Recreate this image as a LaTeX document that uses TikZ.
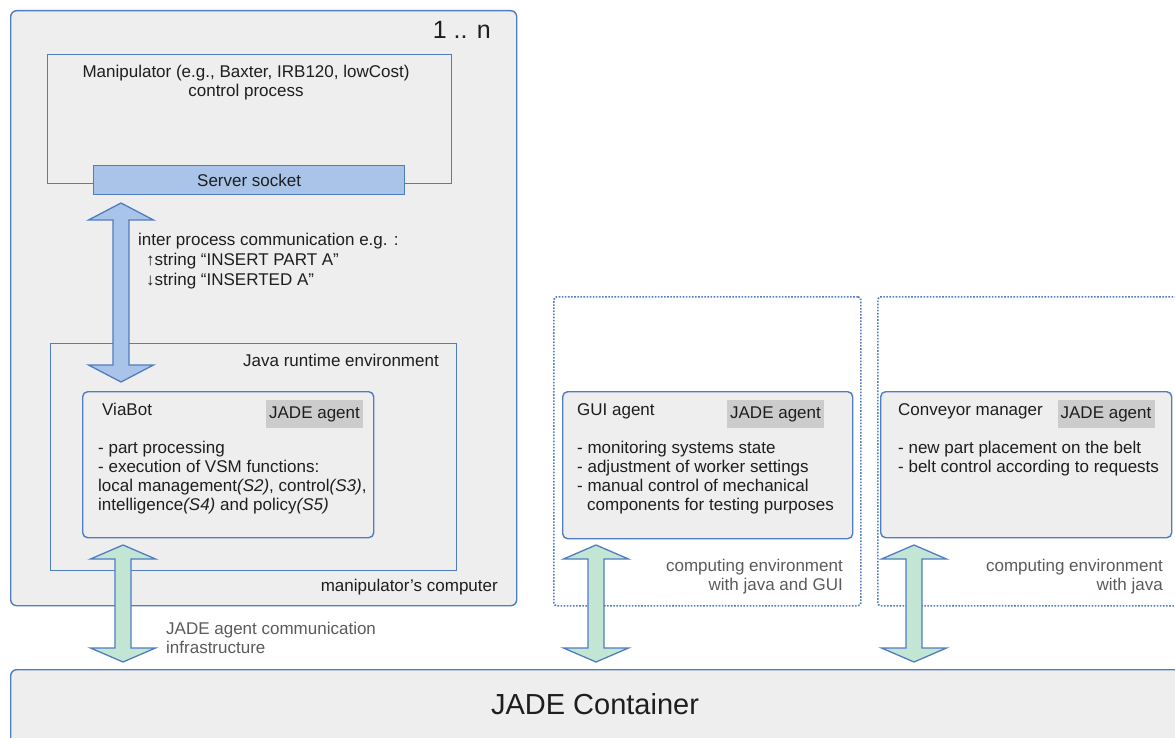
\documentclass[tikz,border=0pt]{standalone}
\usepackage{fontspec}
\setmainfont{Liberation Sans}
\usetikzlibrary{calc}

\definecolor{edge}{HTML}{4F7DBF}
\definecolor{panel}{HTML}{EEEEEE}
\definecolor{sockfill}{HTML}{A9C4E8}
\definecolor{busfill}{HTML}{C3E6D4}
\definecolor{tagfill}{HTML}{CCCCCC}
\definecolor{ink}{HTML}{1E1E1E}
\definecolor{notegray}{HTML}{5A5A5A}

% two-headed block arrow: #1 upper tip, #2 lower tip, #3 head length, #4 style
\newcommand\commarrow[4]{%
  \draw[#4] (#1) -- ($(#1)+(32.5,#3)$) -- ($(#1)+(8,#3)$)
    -- ($(#2)+(8,-#3)$) -- ($(#2)+(32.5,-#3)$) -- (#2)
    -- ($(#2)+(-32.5,-#3)$) -- ($(#2)+(-8,-#3)$)
    -- ($(#1)+(-8,#3)$) -- ($(#1)+(-32.5,#3)$) -- cycle;}

\begin{document}
\begin{tikzpicture}[x=1pt,y=-1pt,
  font=\fontsize{17}{20}\selectfont, text=ink,
  box/.style={draw=edge, line width=1.4pt, fill=panel, rounded corners=6pt,
    inner sep=0pt, anchor=north west},
  plainbox/.style={draw=edge, line width=1.3pt, inner sep=0pt, anchor=north west},
  envbox/.style={draw=edge, line width=1.7pt, dash pattern=on 1.6pt off 1.5pt,
    rounded corners=3pt, inner sep=0pt, anchor=north west},
  tag/.style={fill=tagfill, minimum width=97pt, minimum height=28pt, inner sep=0pt},
  txt/.style={inner sep=0pt, anchor=base west},
  rtxt/.style={inner sep=0pt, anchor=base east},
  notetxt/.style={text=notegray},
  ipc/.style={draw=edge, line width=1.3pt, fill=sockfill},
  bus/.style={draw=edge, line width=1.3pt, fill=busfill}]

\useasboundingbox (0,0) rectangle (1175,738);
\clip (0,0) rectangle (1175,738);

% computers and the shared container
\node[box, minimum width=506pt, minimum height=595pt] (pc) at (10,10) {};
\node[box, minimum width=1185pt, minimum height=80pt] (cont) at (10,669) {};
\node[envbox, minimum width=307pt, minimum height=309pt] (guienv) at (553,296) {};
\node[envbox, minimum width=320pt, minimum height=309pt] (convenv) at (877,296) {};

% manipulator process and its socket
\node[plainbox, minimum width=404pt, minimum height=129pt] (manip) at (47,54) {};
\node[plainbox, fill=sockfill, minimum width=311pt, minimum height=29pt] (sock) at (93,165) {Server socket};

% java runtime and the agents
\node[plainbox, minimum width=406pt, minimum height=227pt] (jre) at (50,343) {};
\node[box, rounded corners=5pt, minimum width=291pt, minimum height=146pt] (viabot) at (82,391) {};
\node[box, rounded corners=5pt, minimum width=290pt, minimum height=147pt] (gui) at (562,391) {};
\node[box, rounded corners=5pt, minimum width=291pt, minimum height=146pt] (conv) at (880,391) {};

\node[tag] (viatag) at (314.5,414) {JADE agent};
\node[tag] (guitag) at (775.5,414) {JADE agent};
\node[tag] (convtag) at (1106,414) {JADE agent};

% labels
\node[rtxt, font=\fontsize{25}{30}\selectfont] (nlabel) at (491,39) {1 .. n};
\node[inner sep=0pt, anchor=base] (manip1) at (246,78) {Manipulator (e.g., Baxter, IRB120, lowCost)};
\node[inner sep=0pt, anchor=base] (manip2) at (246,97) {control process};

\node[txt] (ipc1) at (138,245) {inter process communication e.g. :};
\node[txt] (ipc2) at (146,265) {↑string “INSERT PART A”};
\node[txt] (ipc3) at (146,285) {↓string “INSERTED A”};

\node[rtxt] (jrelabel) at (439,366) {Java runtime environment};
\node[txt] (vbname) at (102,415) {ViaBot};
\node[txt] (vb1) at (98,453) {- part processing};
\node[txt] (vb2) at (98,472) {- execution of VSM functions:};
\node[txt] (vb3) at (98,491) {local management\textit{(S2)}, control\textit{(S3)},};
\node[txt] (vb4) at (98,510) {intelligence\textit{(S4)} and policy\textit{(S5)}};
\node[rtxt] (pclabel) at (498,591) {manipulator’s computer};

\node[txt, notetxt] (bus1) at (166,634) {JADE agent communication};
\node[txt, notetxt] (bus2) at (166,653) {infrastructure};

\node[txt] (guiname) at (577,415) {GUI agent};
\node[txt] (gui1) at (577,453) {- monitoring systems state};
\node[txt] (gui2) at (577,472) {- adjustment of worker settings};
\node[txt] (gui3) at (577,491) {- manual control of mechanical};
\node[txt] (gui4) at (587,510) {components for testing purposes};
\node[rtxt, notetxt] (guienv1) at (843,571) {computing environment};
\node[rtxt, notetxt] (guienv2) at (843,590) {with java and GUI};

\node[txt] (convname) at (898,415) {Conveyor manager};
\node[txt] (conv1) at (898,453) {- new part placement on the belt};
\node[txt] (conv2) at (898,472) {- belt control according to requests};
\node[rtxt, notetxt] (convenv1) at (1163,571) {computing environment};
\node[rtxt, notetxt] (convenv2) at (1163,590) {with java};

\node[font=\fontsize{29}{34}\selectfont, inner sep=0pt] (contlabel) at (595,704) {JADE Container};

% communication arrows
\coordinate (ipcTop) at (121,203);
\coordinate (ipcBot) at (121,382);
\commarrow{ipcTop}{ipcBot}{17}{ipc}

\coordinate (vbTop) at (123,545);
\coordinate (vbBot) at (123,662);
\commarrow{vbTop}{vbBot}{14}{bus}

\coordinate (guiTop) at (596,545);
\coordinate (guiBot) at (596,662);
\commarrow{guiTop}{guiBot}{14}{bus}

\coordinate (convTop) at (914,545);
\coordinate (convBot) at (914,662);
\commarrow{convTop}{convBot}{14}{bus}
\end{tikzpicture}
\end{document}
